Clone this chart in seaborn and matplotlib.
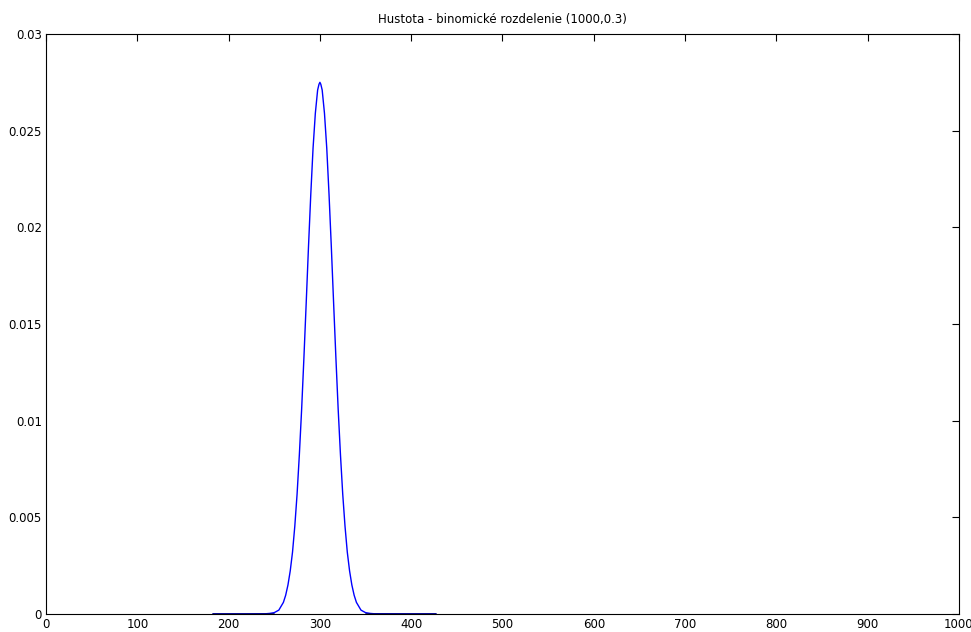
import numpy as np
import pandas as pd
import matplotlib
matplotlib.use("Agg")
import matplotlib.pyplot as plt
import seaborn as sns

# values
xVals = [183, 220, 240, 245, 250, 255, 260, 262.5, 265, 267.5, 270, 272.5, 275,
         277.5, 280, 282.5, 285, 287.5, 290, 292.5, 295, 297.5, 299, 300, 301,
         302.5, 305, 307.5, 310, 312.5, 315, 317.5, 320, 322.5, 325, 327.5, 330,
         332.5, 335, 337.5, 340, 345, 350, 355, 360, 400, 427]
yVals = [0.0, 0.0, 0.00001, 0.00003, 0.00007, 0.0002, 0.0006, 0.00097, 0.0015,
         0.00223, 0.0032, 0.00454, 0.0062, 0.00825, 0.0106, 0.01327, 0.0161,
         0.0190, 0.0217, 0.0241, 0.0259, 0.0271, 0.0274, 0.0275, 0.0274, 0.0271,
         0.0259, 0.0241, 0.0217, 0.0190, 0.0161, 0.01327, 0.0106, 0.00825,
         0.0062, 0.00454, 0.0032, 0.00223, 0.0015, 0.00097, 0.0006, 0.0002,
         0.00007, 0.00003, 0.00001, 0.0, 0.0]
xTicks = list(range(0, 1001, 100))
yTicks = [0, 0.005, 0.01, 0.015, 0.02, 0.025, 0.03]
yLabels = ['0', '0.005', '0.01', '0.015', '0.02', '0.025', '0.03']
title = 'Hustota - binomické rozdelenie (1000,0.3)'

df = pd.DataFrame({'x': xVals, 'y': yVals})

sns.set_style('white')
plt.rcParams['font.family'] = ['DejaVu Sans']

fig = plt.figure(figsize=(9.71, 6.32), dpi=100)
ax = fig.add_axes([0.0474, 0.0285, 0.9402, 0.9177])
sns.lineplot(data=df, x='x', y='y', ax=ax, color='#0000ff', linewidth=1)
# dark tails near zero
ax.plot([183, 250], [0, 0], color='#000080', linewidth=1.2)
ax.plot([350, 427], [0, 0], color='#000080', linewidth=1.2)

ax.set_xlim(0, 1000)
ax.set_ylim(0, 0.03)
ax.set_xticks(xTicks)
ax.set_xticklabels([str(t) for t in xTicks])
ax.set_yticks(yTicks)
ax.set_yticklabels(yLabels)
ax.set_xlabel('')
ax.set_ylabel('')
ax.set_title(title, fontsize=8.5, pad=8, color='black')

ax.tick_params(direction='in', top=True, right=True, length=5, width=0.8,
               labelsize=8.5, colors='black', pad=3)
for s in ax.spines.values():
    s.set_color('black')
    s.set_linewidth(0.8)

fig.savefig('out.png', dpi=100)
